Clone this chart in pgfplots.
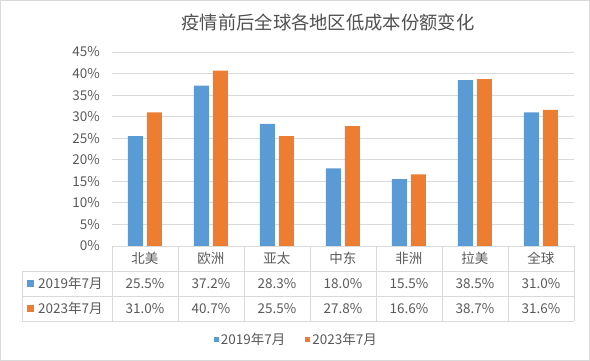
\documentclass[border=0pt]{standalone}
\usepackage{pgfplots}
\pgfplotsset{compat=1.18}
\usepackage{pgfplotstable}
\usepackage{fontspec}
\setmainfont{Noto Sans CJK SC}
\definecolor{txt}{HTML}{595959}
\definecolor{grd}{HTML}{D9D9D9}
\definecolor{cA}{HTML}{5B9BD5}
\definecolor{cB}{HTML}{ED7D31}
\pgfkeys{/pgf/number format/assume math mode=true}
\newcommand{\tf}{\fontsize{13.5}{13.5}\selectfont}
\pgfplotstableread{
x cat a b
0 北美 25.5 31.0
1 欧洲 37.2 40.7
2 亚太 28.3 25.5
3 中东 18.0 27.8
4 非洲 15.5 16.6
5 拉美 38.5 38.7
6 全球 31.0 31.6
}\data
\begin{document}
\begin{tikzpicture}
\useasboundingbox (-112pt,-115pt) rectangle (478pt,246pt);
\draw[grd, line width=0.8pt] (-111.6pt,-114.6pt) rectangle (477.6pt,245.6pt);
\begin{axis}[
  at={(0pt,0pt)}, anchor=south west,
  scale only axis, width=462pt, height=194pt,
  xmin=-0.5, xmax=6.5, ymin=0, ymax=45,
  axis line style={draw=none},
  major tick length=0pt,
  ytick={0,5,...,45},
  yticklabel={\pgfmathprintnumber{\tick}\%},
  yticklabel style={font=\tf, text=txt, anchor=east, inner sep=0pt, xshift=-12pt},
  ymajorgrids, grid style={grd, line width=0.8pt},
  xtick=data, xticklabels from table={\data}{cat},
  xticklabel style={font=\tf, text=txt, anchor=center, inner sep=0pt, yshift=-12.5pt},
  clip=false,
  legend columns=2,
  legend style={at={(0.399,-0.4845)}, anchor=center, draw=none, fill=none,
    font=\tf, text=txt, inner sep=0pt,
    /tikz/every even column/.append style={column sep=18pt}},
]
\addplot[ybar, bar width=15pt, bar shift=-9.5pt, fill=cA, draw=none,
  legend image code/.code={\fill[cA] (0pt,-2.5pt) rectangle (5pt,2.5pt);}]
  table[x=x, y=a]{\data};
\addlegendentry{2019年7月}
\addplot[ybar, bar width=15pt, bar shift=9.5pt, fill=cB, draw=none,
  legend image code/.code={\fill[cB] (0pt,-2.5pt) rectangle (5pt,2.5pt);}]
  table[x=x, y=b]{\data};
\addlegendentry{2023年7月}
\addplot[draw=none, mark=none, forget plot, point meta=\thisrow{a},
  nodes near coords={\pgfmathprintnumber[fixed,fixed zerofill,precision=1]{\pgfplotspointmeta}\%},
  nodes near coords align={center},
  every node near coord/.append style={font=\tf, text=txt, inner sep=0pt, yshift=-37.5pt}]
  table[x=x, y expr=0]{\data};
\addplot[draw=none, mark=none, forget plot, point meta=\thisrow{b},
  nodes near coords={\pgfmathprintnumber[fixed,fixed zerofill,precision=1]{\pgfplotspointmeta}\%},
  nodes near coords align={center},
  every node near coord/.append style={font=\tf, text=txt, inner sep=0pt, yshift=-62.5pt}]
  table[x=x, y expr=0]{\data};
\end{axis}
% data table grid
\begin{scope}[grd, line width=0.8pt]
\foreach \yy in {-25,-50,-75} \draw (-90pt,\yy pt) -- (462pt,\yy pt);
\foreach \xx in {0,66,...,462} \draw (\xx pt,0pt) -- (\xx pt,-75pt);
\draw (-90pt,-25pt) -- (-90pt,-75pt);
\end{scope}
\fill[cA] (-85pt,-41pt) rectangle (-78pt,-34pt);
\fill[cB] (-85pt,-66pt) rectangle (-78pt,-59pt);
\node[anchor=west, inner sep=0pt, font=\tf, text=txt] at (-74pt,-37.5pt) {2019年7月};
\node[anchor=west, inner sep=0pt, font=\tf, text=txt] at (-74pt,-62.5pt) {2023年7月};
\node[font=\fontsize{18.3}{18.3}\selectfont, text=txt!90!black] at (216pt,223pt) {疫情前后全球各地区低成本份额变化};
\end{tikzpicture}
\end{document}
